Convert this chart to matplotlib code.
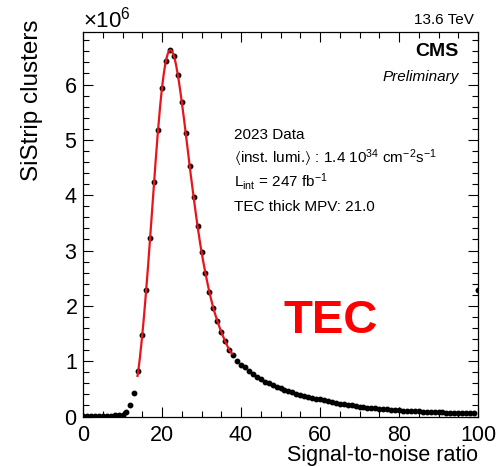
import numpy as np
import matplotlib
matplotlib.use("Agg")
import matplotlib.pyplot as plt
from matplotlib.ticker import MultipleLocator, ScalarFormatter

plt.rcParams['font.family'] = ['Liberation Sans', 'DejaVu Sans']
plt.rcParams['mathtext.fontset'] = 'custom'
plt.rcParams['mathtext.rm'] = 'Liberation Sans'
plt.rcParams['mathtext.it'] = 'Liberation Sans:italic'
plt.rcParams['mathtext.bf'] = 'Liberation Sans:bold'
plt.rcParams['mathtext.fallback'] = 'stixsans'

# ---- data (signal-to-noise bin centres and cluster counts, in units of 1e6) ----
snr = list(range(0, 100))
counts_m = [
    0.005, 0.010, 0.012, 0.014, 0.015, 0.016, 0.017, 0.019, 0.021, 0.024,   # 0-9
    0.035, 0.076, 0.20, 0.43, 0.83, 1.47, 2.29, 3.23, 4.24, 5.18,          # 10-19
    5.94, 6.43, 6.62, 6.52, 6.18, 5.69, 5.13, 4.53, 3.97, 3.44,            # 20-29
    2.98, 2.59, 2.25, 1.96, 1.73, 1.53, 1.36, 1.21, 1.11, 1.01,            # 30-39
    0.94, 0.89, 0.83, 0.77, 0.72, 0.67, 0.63, 0.60, 0.57, 0.54,            # 40-49
    0.51, 0.48, 0.46, 0.44, 0.41, 0.39, 0.37, 0.355, 0.34, 0.325,          # 50-59
    0.31, 0.295, 0.28, 0.265, 0.25, 0.235, 0.22, 0.21, 0.20, 0.19,         # 60-69
    0.18, 0.17, 0.162, 0.155, 0.148, 0.141, 0.135, 0.129, 0.123, 0.118,    # 70-79
    0.113, 0.108, 0.104, 0.100, 0.096, 0.092, 0.089, 0.086, 0.083, 0.080,  # 80-89
    0.077, 0.074, 0.072, 0.070, 0.068, 0.066, 0.064, 0.062, 0.060, 0.058,  # 90-99
]
overflow_x = [100]
overflow_m = [2.28]
fit_range = (13.8, 37.7)

x_ticks_major = [0, 20, 40, 60, 80, 100]

counts = np.array(counts_m) * 1e6
x = np.array(snr, dtype=float)

fig = plt.figure(figsize=(5.0, 4.67), dpi=100)
ax = fig.add_axes([0.166, 0.108, 0.790, 0.8235])

# data points with horizontal bin-width error bars
ax.errorbar(x, counts, xerr=0.5, fmt='o', color='black', ms=3.2,
            elinewidth=0.8, capsize=0, zorder=3)
ax.errorbar(overflow_x, np.array(overflow_m) * 1e6, xerr=0.5, fmt='o',
            color='black', ms=3.2, elinewidth=0.8, capsize=0, zorder=3)

# fit curve drawn as a smooth Catmull-Rom curve through the fitted points
def catmull_rom(xs, ys, xq):
    xs = np.asarray(xs, float); ys = np.asarray(ys, float)
    out = np.empty_like(xq)
    for k, xv in enumerate(xq):
        i = int(np.clip(np.searchsorted(xs, xv) - 1, 0, len(xs) - 2))
        i0, i1, i2, i3 = max(i - 1, 0), i, i + 1, min(i + 2, len(xs) - 1)
        h = xs[i2] - xs[i1]
        t = (xv - xs[i1]) / h
        m1 = (ys[i2] - ys[i0]) / (xs[i2] - xs[i0])
        m2 = (ys[i3] - ys[i1]) / (xs[i3] - xs[i1])
        t2, t3 = t * t, t * t * t
        out[k] = ((2*t3 - 3*t2 + 1) * ys[i1] + (t3 - 2*t2 + t) * h * m1 +
                  (-2*t3 + 3*t2) * ys[i2] + (t3 - t2) * h * m2)
    return out

sel = (x >= 13) & (x <= 39)
xf = np.linspace(fit_range[0], fit_range[1], 400)
yf = catmull_rom(x[sel], counts[sel], xf)
ax.plot(xf, yf, color='#e8141c', lw=1.6, zorder=4)

ax.set_xlim(0, 100)
ax.set_ylim(0, 6.95e6)

ax.xaxis.set_major_locator(MultipleLocator(20))
ax.xaxis.set_minor_locator(MultipleLocator(5))
ax.yaxis.set_major_locator(MultipleLocator(1e6))
ax.yaxis.set_minor_locator(MultipleLocator(2e5))
ax.set_xticks(x_ticks_major)

fmt = ScalarFormatter(useMathText=True)
fmt.set_powerlimits((0, 0))
ax.yaxis.set_major_formatter(fmt)
ax.yaxis.get_offset_text().set_fontsize(16)

ax.tick_params(which='both', direction='in', top=True, right=True,
               width=0.8, colors='black', labelsize=15.5)
ax.tick_params(which='major', length=7.5)
ax.tick_params(which='minor', length=4)
ax.tick_params(axis='x', which='major', pad=6)
ax.tick_params(axis='y', which='major', pad=4)
for s in ax.spines.values():
    s.set_linewidth(0.9)

ax.set_xlabel('Signal-to-noise ratio', fontsize=15.5)
ax.xaxis.set_label_coords(1.0, -0.100)
ax.xaxis.label.set_ha('right')
ax.xaxis.label.set_va('center')

ax.set_ylabel('SiStrip clusters', fontsize=17.5)
ax.yaxis.set_label_coords(-0.128, 1.032)
ax.yaxis.label.set_ha('right')
ax.yaxis.label.set_va('center')

# header texts
fig.text(474/500, 1 - 20/467, '13.6 TeV', fontsize=11, ha='right', va='center')
fig.text(459/500, 1 - 51/467, 'CMS', fontsize=14, fontweight='bold',
         ha='right', va='center')
fig.text(459/500, 1 - 77/467, 'Preliminary', fontsize=11, style='italic',
         ha='right', va='center')

# info block
tx = 234/500
fig.text(tx, 1 - 139/467, '2023 Data', fontsize=11, ha='left', va='baseline')
fig.text(tx, 1 - 163/467,
         r'$\langle$inst. lumi.$\rangle$ : 1.4 10$^{34}$ cm$^{-2}$s$^{-1}$',
         fontsize=11, ha='left', va='baseline')
fig.text(tx, 1 - 187/467, 'L$_{\\mathrm{int}}$ = 247 fb$^{-1}$',
         fontsize=11, ha='left', va='baseline')
fig.text(tx, 1 - 211/467, 'TEC thick MPV: 21.0', fontsize=11,
         ha='left', va='baseline')

fig.text(331/500, 1 - 321/467, 'TEC', fontsize=34, fontweight='bold',
         color='#ff0000', ha='center', va='center')

fig.savefig('out.png', dpi=100)
